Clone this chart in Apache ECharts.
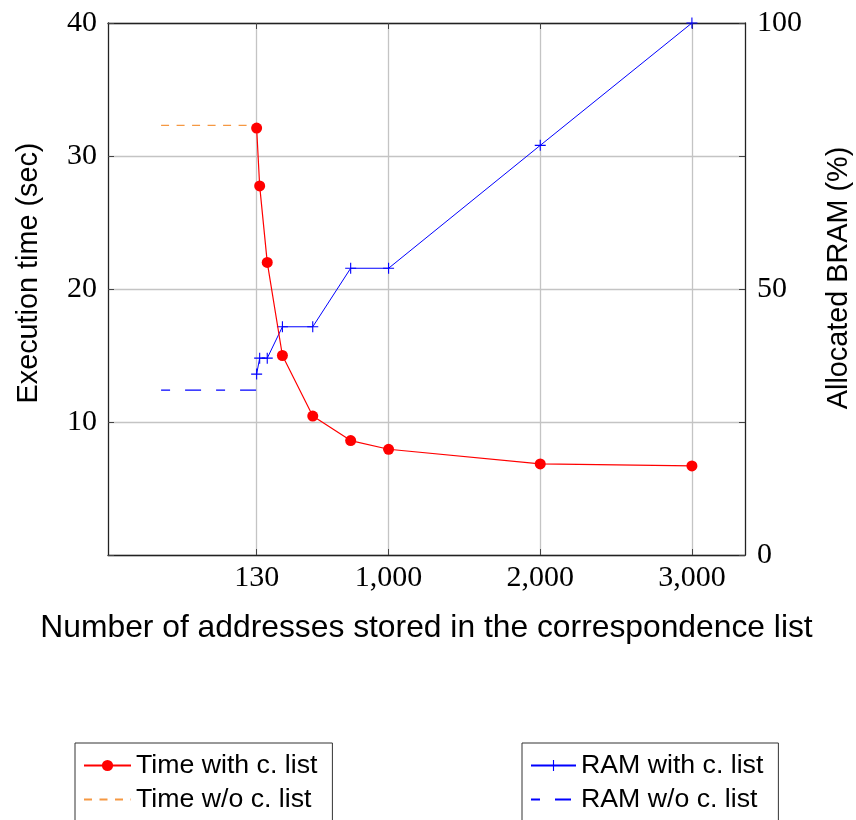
<!DOCTYPE html>
<html><head><meta charset="utf-8">
<script src="https://cdn.jsdelivr.net/npm/echarts@6/dist/echarts.min.js"></script>
<style>html,body{margin:0;padding:0;background:#fff}#c{width:856px;height:820px}</style>
</head><body><div id="c"></div>
<script>
// ---- data ----
const xTicks = [130, 1000, 2000, 3000];
const timeWithX = [130, 150, 200, 300, 500, 750, 1000, 2000, 3000];
const timeWithY = [32.1, 27.75, 22.0, 15.0, 10.45, 8.6, 7.95, 6.85, 6.7];
const timeWithoutX = [-500, 130];
const timeWithoutY = [32.3, 32.3];
const ramWithX = [130, 150, 200, 300, 500, 750, 1000, 2000, 3000];
const ramWithY = [34.0, 37.0, 37.0, 42.9, 42.9, 53.9, 53.9, 77.0, 100];
const ramWithoutX = [-500, 130];
const ramWithoutY = [31.0, 31.0];

const pairs = (xs, ys) => xs.map((x, i) => [x, ys[i]]);
const fmtX = v => String(v).replace(/\B(?=(\d{3})+(?!\d))/g, ',');
const plus = 'path://M4.5,0h1v4.5h4.5v1h-4.5v4.5h-1v-4.5h-4.5v-1h4.5z';

const serif = 'Liberation Serif';
const sans = 'Liberation Sans';
const tickStyle = { color: '#444', width: 1 };
const frame = { color: '#222', width: 1.3 };
const legendText = { fontFamily: sans, fontSize: 26.7, lineHeight: 26, color: '#000' };

const chart = echarts.init(document.getElementById('c'), null, { renderer: 'canvas' });
chart.setOption({
  animation: false,
  backgroundColor: '#fff',
  grid: { left: 108, right: 111, top: 23, bottom: 265, containLabel: false, outerBoundsMode: 'none' },
  xAxis: [{
    type: 'value', position: 'bottom', min: -850, max: 3350,
    axisLine: { show: true, onZero: false, lineStyle: frame },
    axisTick: { show: true, inside: true, length: 6, customValues: xTicks, lineStyle: tickStyle },
    axisLabel: { customValues: xTicks, formatter: fmtX, fontFamily: serif, fontSize: 30, color: '#000', margin: 8 },
    splitLine: { show: true, lineStyle: { color: '#c4c4c4', width: 1.3 } },
    name: 'Number of addresses stored in the correspondence list',
    nameLocation: 'middle', nameGap: 57,
    nameTextStyle: { fontFamily: sans, fontSize: 31.8, color: '#000' }
  }, {
    type: 'value', position: 'top', min: -850, max: 3350,
    axisLine: { show: true, onZero: false, lineStyle: frame },
    axisTick: { show: true, inside: true, length: 6, customValues: xTicks, lineStyle: tickStyle },
    axisLabel: { show: false },
    splitLine: { show: false }
  }],
  yAxis: [{
    type: 'value', position: 'left', min: 0, max: 40, interval: 10,
    axisLine: { show: true, onZero: false, lineStyle: frame },
    axisTick: { show: true, inside: true, length: 6, lineStyle: tickStyle },
    axisLabel: { formatter: v => (v === 0 ? '' : String(v)), fontFamily: serif, fontSize: 30, color: '#000', margin: 11 },
    splitLine: { show: true, lineStyle: { color: '#c4c4c4', width: 1.3 } },
    name: 'Execution time (sec)', nameLocation: 'middle', nameRotate: 90, nameGap: 64,
    nameTextStyle: { fontFamily: sans, fontSize: 28.8, color: '#000', padding: [0, 0, 0, 32] }
  }, {
    type: 'value', position: 'right', min: 0, max: 100, interval: 50,
    axisLine: { show: true, onZero: false, lineStyle: frame },
    axisTick: { show: true, inside: true, length: 6, lineStyle: tickStyle },
    axisLabel: { fontFamily: serif, fontSize: 30, color: '#000', margin: 12 },
    splitLine: { show: false },
    name: 'Allocated BRAM (%)', nameLocation: 'middle', nameRotate: 90, nameGap: 80,
    nameTextStyle: { fontFamily: sans, fontSize: 28.8, color: '#000', padding: [0, 0, 0, 22] }
  }, {
    type: 'value', position: 'right', min: 0, max: 40, interval: 10,
    axisLine: { show: false, onZero: false },
    axisTick: { show: true, inside: true, length: 6, lineStyle: tickStyle },
    axisLabel: { show: false },
    splitLine: { show: false }
  }],
  legend: [{
    data: ['Time with c. list', 'Time w/o c. list'],
    orient: 'vertical', left: 75, top: 743, height: 200, padding: [9, 15, 20, 8],
    itemWidth: 47, itemHeight: 14, itemGap: 7, selectedMode: false,
    borderColor: '#333', borderWidth: 1, borderRadius: 0,
    textStyle: legendText
  }, {
    data: ['RAM with c. list', 'RAM w/o c. list'],
    orient: 'vertical', left: 522, top: 743, height: 200, padding: [9, 15, 20, 8],
    itemWidth: 45, itemHeight: 14, itemGap: 7, selectedMode: false,
    borderColor: '#333', borderWidth: 1, borderRadius: 0,
    textStyle: legendText
  }],
  series: [{
    name: 'Time with c. list', type: 'line', xAxisIndex: 0, yAxisIndex: 0, z: 4,
    data: pairs(timeWithX, timeWithY),
    symbol: 'circle', symbolSize: 11,
    lineStyle: { color: '#ff0000', width: 1.2 }, itemStyle: { color: '#ff0000' }
  }, {
    name: 'Time w/o c. list', type: 'line', xAxisIndex: 0, yAxisIndex: 0, z: 3,
    data: pairs(timeWithoutX, timeWithoutY), symbol: 'none',
    lineStyle: { color: '#f59842', width: 1.3, type: [8, 7.5] }, itemStyle: { color: '#f59842', opacity: 0 }
  }, {
    name: 'RAM with c. list', type: 'line', xAxisIndex: 0, yAxisIndex: 1, z: 3,
    data: pairs(ramWithX, ramWithY),
    symbol: plus, symbolSize: 11,
    lineStyle: { color: '#0000ff', width: 1 }, itemStyle: { color: '#0000ff' }
  }, {
    name: 'RAM w/o c. list', type: 'line', xAxisIndex: 0, yAxisIndex: 1, z: 3,
    data: pairs(ramWithoutX, ramWithoutY), symbol: 'none',
    lineStyle: { color: '#0000ff', width: 1.2, type: [9, 15, 16, 15] }, itemStyle: { color: '#0000ff', opacity: 0 }
  }]
});
</script></body></html>
